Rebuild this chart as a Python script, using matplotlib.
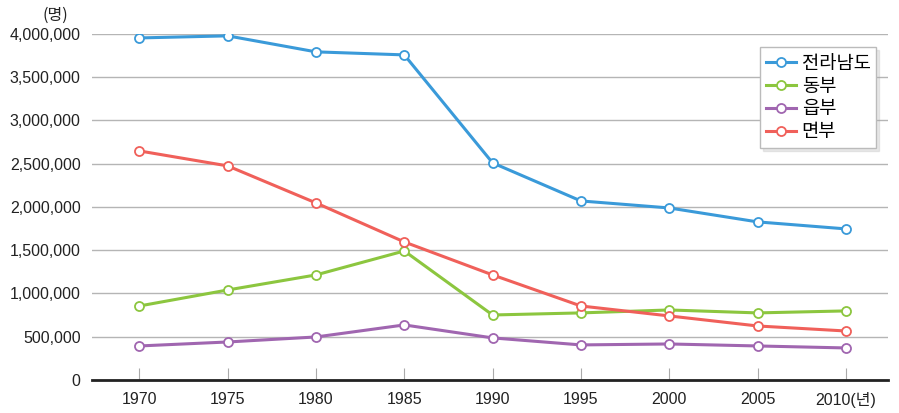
import numpy as np
import matplotlib
matplotlib.use("Agg")
import matplotlib.pyplot as plt

plt.rcParams['font.family'] = ['Liberation Sans', 'Noto Sans CJK KR', 'DejaVu Sans']

years = [1970, 1975, 1980, 1985, 1990, 1995, 2000, 2005, 2010]
year_labels = ['1970', '1975', '1980', '1985', '1990', '1995', '2000', '2005', '2010(년)']
jeonnam = [3953000, 3977000, 3792000, 3757000, 2509000, 2069000, 1988000, 1827000, 1746000]
dongbu = [855000, 1040000, 1214000, 1491000, 751000, 775000, 809000, 775000, 798000]
eupbu = [393000, 439000, 497000, 636000, 486000, 405000, 416000, 393000, 370000]
myeonbu = [2647000, 2474000, 2046000, 1595000, 1214000, 855000, 740000, 624000, 566000]

names = ['전라남도', '동부', '읍부', '면부']
colors = ['#3a9ad9', '#8cc63f', '#a066b0', '#f0605a']

fig = plt.figure(figsize=(8.99, 4.13), dpi=100)
ax = fig.add_axes([0.102, 0.080, 0.886, 0.838])

for vals, name, c in zip([jeonnam, dongbu, eupbu, myeonbu], names, colors):
    ax.plot(years, vals, color=c, lw=2.2, marker='o', ms=6.5,
            mfc='white', mec=c, mew=1.3, label=name, zorder=3)

ax.set_xlim(1967.3, 2012.4)
ax.set_ylim(0, 4000000)
yt = np.arange(0, 4000001, 500000)
ax.set_yticks(yt)
ax.set_yticklabels([f'{int(v):,}' for v in yt])
ax.set_xticks(years)
ax.set_xticklabels(year_labels)
ax.yaxis.grid(True, color='#b5b5b5', lw=1)
ax.set_axisbelow(True)
for s in ['top', 'right', 'left']:
    ax.spines[s].set_visible(False)
ax.spines['bottom'].set_linewidth(2)
ax.spines['bottom'].set_color('#222222')
ax.tick_params(axis='y', length=0, labelsize=11.5, pad=8, colors='#222222')
ax.tick_params(axis='x', direction='in', length=9, labelsize=11.5, pad=9)
ax.tick_params(axis='x', labelcolor='#222222', color='#aaaaaa')

fig.text(0.062, 0.962, '(명)', fontsize=11.5, ha='center', va='center', color='#222222',
         family=['Noto Sans CJK KR', 'DejaVu Sans'])

leg = ax.legend(loc='upper right', bbox_to_anchor=(0.985, 0.962), borderaxespad=0,
                frameon=True, fancybox=False, shadow={'color': '#aaaaaa', 'alpha': 0.25},
                prop={'family': ['Noto Sans CJK KR', 'DejaVu Sans'], 'size': 13.5},
                handlelength=1.6, handletextpad=0.3, borderpad=0.3, labelspacing=0.1)
leg.get_frame().set_edgecolor('#bbbbbb')
leg.get_frame().set_linewidth(1)
leg.get_frame().set_alpha(1)

fig.savefig('out.png', dpi=100)
